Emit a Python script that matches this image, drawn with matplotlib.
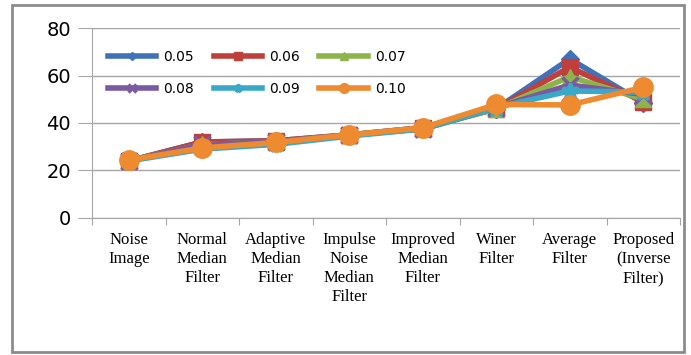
import matplotlib
matplotlib.use("Agg")
import matplotlib.pyplot as plt
from matplotlib.patches import Rectangle

categories = [
    "Noise\nImage",
    "Normal\nMedian\nFilter",
    "Adaptive\nMedian\nFilter",
    "Impulse\nNoise\nMedian\nFilter",
    "Improved\nMedian\nFilter",
    "Winer\nFilter",
    "Average\nFilter",
    "Proposed\n(Inverse\nFilter)",
]

series_names = ["0.05", "0.06", "0.07", "0.08", "0.09", "0.10"]
s005 = [24, 32, 32.5, 35, 38, 46, 67, 48.5]
s006 = [24, 32, 32.5, 35, 38, 46, 63.5, 49]
s007 = [24, 31, 32, 35, 37.5, 46, 59.5, 50]
s008 = [24, 31, 32, 35, 37.5, 46.5, 56, 52]
s009 = [24, 29, 31, 34.5, 37.5, 46.5, 53.5, 53]
s010 = [24.4, 29.5, 31.8, 35, 38, 47.8, 47.6, 55]
series_values = [s005, s006, s007, s008, s009, s010]

colors = ["#3f72b9", "#be3f3c", "#8db44a", "#7a5aa0", "#3aa8c8", "#ee8a2f"]
markers = ["D", "s", "^", "x", "*", "o"]
msizes = [9, 11, 11, 11, 12, 14]

fig = plt.figure(figsize=(6.91, 3.55), dpi=100)
ax = fig.add_axes([92 / 691, 1 - 218 / 355, 588 / 691, 190 / 355])

x = list(range(len(categories)))
handles = []
for name, vals, c, m, ms in zip(series_names, series_values, colors, markers, msizes):
    h, = ax.plot(x, vals, color=c, lw=4, marker=m, markersize=ms,
                 markeredgewidth=2.5 if m in ("x", "*") else 1, markeredgecolor=c,
                 label=name, zorder=3)
    handles.append(h)

ax.set_xlim(-0.5, len(categories) - 0.5)
ax.set_ylim(0, 80)
ax.set_yticks([0, 20, 40, 60, 80])
ax.set_yticklabels(["0", "20", "40", "60", "80"], fontsize=14, family="DejaVu Sans")
ax.yaxis.grid(True, color="#a6a6a6", lw=1)
ax.set_axisbelow(True)

ax.set_xticks([i + 0.5 for i in range(-1, len(categories))])
ax.set_xticklabels([])
ax.tick_params(axis="x", length=5, color="#a6a6a6", direction="out")
ax.tick_params(axis="y", length=10, color="#a6a6a6", direction="out", pad=5)
for i, lab in enumerate(categories):
    ax.text(i, -6, lab, ha="center", va="top", fontsize=12,
            family="Liberation Serif", linespacing=1.25)

for s in ["top", "right"]:
    ax.spines[s].set_visible(False)
for s in ["left", "bottom"]:
    ax.spines[s].set_color("#a6a6a6")

# legend fills column-wise, so reorder to get rows 0.05-0.07 / 0.08-0.10
order = [0, 3, 1, 4, 2, 5]
ax.legend([handles[i] for i in order], [series_names[i] for i in order],
          loc="upper left", bbox_to_anchor=(0.015, 0.92), ncol=3, frameon=False,
          fontsize=10, handlelength=3.5, handletextpad=0.5, columnspacing=1.4,
          labelspacing=1.3, borderpad=0, markerscale=0.5)

fig.patches.append(Rectangle((12 / 691, 1 - 352 / 355), 672 / 691, 347 / 355,
                             transform=fig.transFigure, fill=False,
                             edgecolor="#8c8c8c", lw=2))

fig.savefig("out.png", dpi=100)
